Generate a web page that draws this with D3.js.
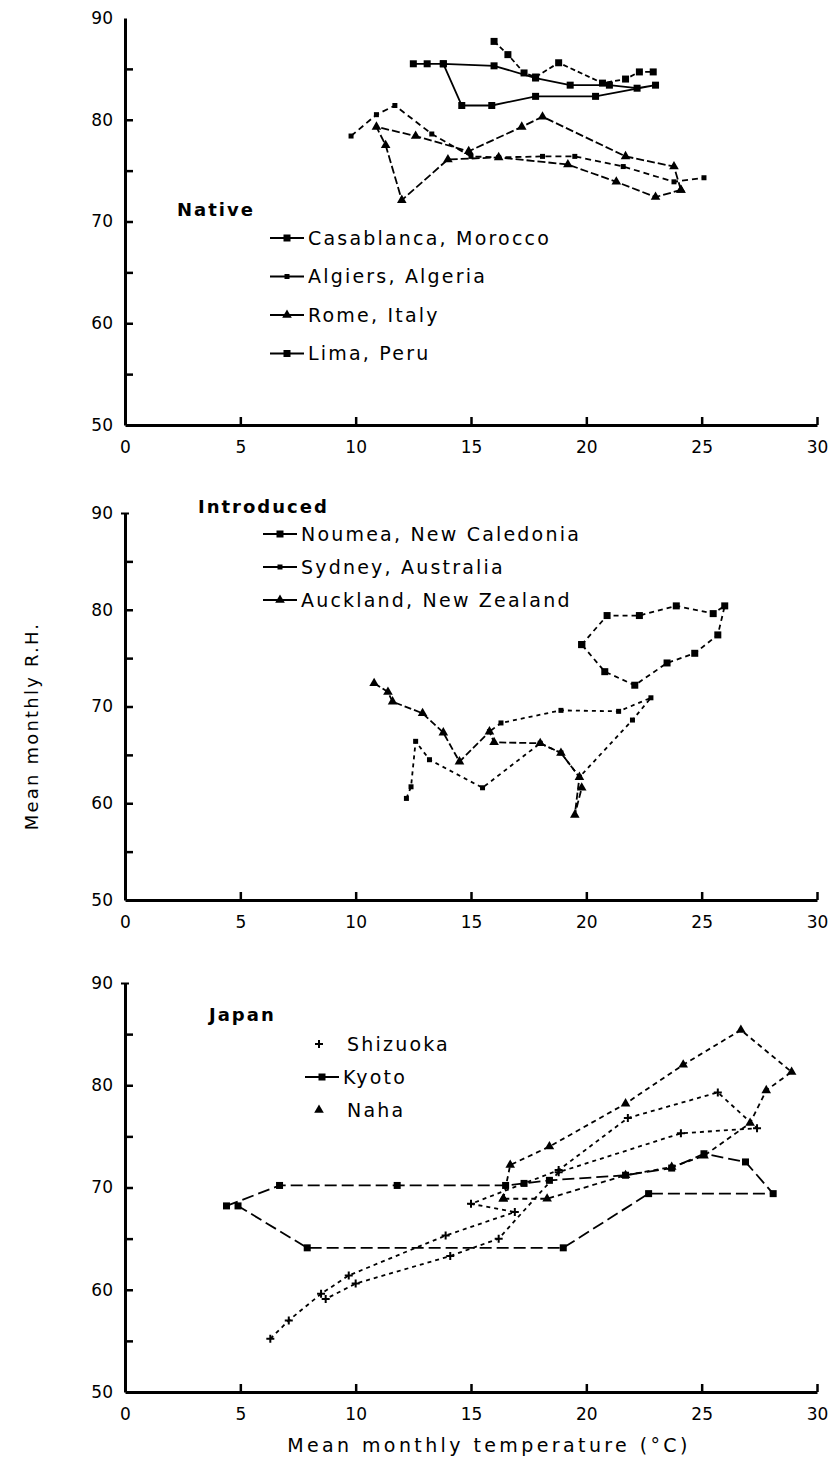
<!DOCTYPE html>
<html>
<head>
<meta charset="utf-8">
<script src="https://cdn.jsdelivr.net/npm/d3@7"></script>
<style>
  body { margin: 0; background: #fff; }
  svg text { font-family: "DejaVu Sans", sans-serif; fill: #000; }
</style>
</head>
<body>
<div id="chart"></div>
<script>
// ticks
const xTicks = [0, 5, 10, 15, 20, 25, 30];
const yTicks = [50, 55, 60, 65, 70, 75, 80, 85, 90];
const yLabels = [50, 60, 70, 80, 90];

// Native  [temp, RH]
const casablanca = [[12.5,85.5],[13.1,85.5],[13.8,85.5],[16.0,85.3],[17.8,84.1],[19.3,83.4],[21.0,83.4],[22.2,83.1],[23.0,83.4],[20.4,82.3],[17.8,82.3],[15.9,81.4],[14.6,81.4],[13.8,85.5]];
const algiers = [[9.8,78.4],[10.9,80.5],[11.7,81.4],[13.3,78.6],[15.0,76.4],[16.2,76.3],[18.1,76.4],[19.5,76.4],[21.6,75.4],[23.8,73.9],[25.1,74.3]];
const rome = [[24.1,73.1],[23.8,75.4],[21.7,76.4],[18.1,80.3],[17.2,79.3],[14.9,76.9],[12.6,78.4],[10.9,79.3],[11.3,77.5],[12.0,72.1],[14.0,76.1],[16.2,76.3],[19.2,75.6],[21.3,73.9],[23.0,72.4],[24.1,73.1]];
const lima = [[16.0,87.7],[16.6,86.4],[17.3,84.6],[17.8,84.2],[18.8,85.6],[20.7,83.6],[21.7,84.0],[22.3,84.7],[22.9,84.7]];

// Introduced
const noumea = [[19.8,76.4],[20.9,79.4],[22.3,79.4],[23.9,80.4],[25.5,79.6],[26.0,80.4],[25.7,77.4],[24.7,75.5],[23.5,74.5],[22.1,72.2],[20.8,73.6],[19.8,76.4]];
const sydney = [[12.2,60.5],[12.4,61.7],[12.6,66.4],[13.2,64.5],[15.5,61.6],[18.0,66.2],[18.9,65.2],[19.7,62.7],[22.0,68.6],[22.8,70.9],[21.4,69.5],[18.9,69.6],[16.3,68.3],[15.8,67.4]];
const auckland = [[10.8,72.4],[11.4,71.5],[11.6,70.5],[12.9,69.3],[13.8,67.3],[14.5,64.3],[15.8,67.4],[16.0,66.3],[18.0,66.2],[18.9,65.2],[19.7,62.7],[19.5,58.8],[19.8,61.6]];

// Japan
const shizuoka = [[6.3,55.2],[7.1,57.0],[8.5,59.6],[9.7,61.4],[13.9,65.3],[16.9,67.6],[15.0,68.4],[18.8,71.7],[21.8,76.8],[25.7,79.3],[27.4,75.8],[24.1,75.3],[18.8,71.5],[16.2,65.0],[14.1,63.3],[10.0,60.6],[8.7,59.1]];
const kyoto = [[4.4,68.2],[6.7,70.2],[11.8,70.2],[16.5,70.2],[17.3,70.4],[18.4,70.7],[21.7,71.2],[23.7,71.9],[25.1,73.3],[26.9,72.5],[28.1,69.4],[22.7,69.4],[19.0,64.1],[7.9,64.1],[4.9,68.2]];
const naha = [[16.4,68.9],[16.7,72.2],[18.4,74.0],[21.7,78.2],[24.2,82.0],[26.7,85.4],[28.9,81.3],[27.8,79.5],[27.1,76.3],[25.1,73.1],[23.7,72.0],[21.7,71.2],[18.3,68.9],[16.4,68.9]];

const width = 829, height = 1457;
const svg = d3.select("#chart").append("svg")
    .attr("width", width).attr("height", height);

const x = d3.scaleLinear().domain([0, 30]).range([125, 817]);

const panels = [
  { title: "Native", top: 18, bottom: 425, tx: 177, ty: 210, lx: 270, ly: 238, dy: 38.5, cap: false,
    series: [
      { name: "Casablanca, Morocco", data: casablanca, dash: null, mark: "square" },
      { name: "Algiers, Algeria", data: algiers, dash: "6,4", mark: "dot" },
      { name: "Rome, Italy", data: rome, dash: "8,3", mark: "tri" },
      { name: "Lima, Peru", data: lima, dash: "5,3", mark: "square" }
    ] },
  { title: "Introduced", top: 513, bottom: 900, tx: 198, ty: 507, lx: 263, ly: 534, dy: 33, cap: true,
    series: [
      { name: "Noumea, New Caledonia", data: noumea, dash: "5,4", mark: "square" },
      { name: "Sydney, Australia", data: sydney, dash: "4,4", mark: "dot" },
      { name: "Auckland, New Zealand", data: auckland, dash: "7,3", mark: "tri" }
    ] },
  { title: "Japan", top: 983, bottom: 1392, tx: 209, ty: 1015, lx: 305, ly: 1044, dy: 33, cap: true,
    series: [
      { name: "Shizuoka", data: shizuoka, dash: "4,4", mark: "plus", noLine: true },
      { name: "Kyoto", data: kyoto, dash: "12,5", mark: "square" },
      { name: "Naha", data: naha, dash: "5,4", mark: "tri", noLine: true }
    ] }
];

function marker(g, type, cx, cy) {
  if (type === "square") {
    g.append("rect").attr("x", cx - 3.5).attr("y", cy - 3.5).attr("width", 7).attr("height", 7);
  } else if (type === "dot") {
    g.append("rect").attr("x", cx - 2.5).attr("y", cy - 2.5).attr("width", 5).attr("height", 5);
  } else if (type === "tri") {
    g.append("path").attr("d", d3.symbol(d3.symbolTriangle, 40)()).attr("transform", `translate(${cx},${cy})`);
  } else {
    g.append("path").attr("d", `M${cx-4},${cy}H${cx+4}M${cx},${cy-4}V${cy+4}`)
      .attr("stroke", "#000").attr("stroke-width", 2);
  }
}

panels.forEach(p => {
  const y = d3.scaleLinear().domain([50, 90]).range([p.bottom, p.top]);
  const g = svg.append("g");

  // axes
  const xAxis = g.append("g").attr("transform", `translate(0,${p.bottom})`)
    .call(d3.axisBottom(x).tickValues(xTicks).tickSize(-8).tickPadding(16).tickSizeOuter(0));
  const yAxis = g.append("g").attr("transform", `translate(${x(0)},0)`)
    .call(d3.axisLeft(y).tickValues(yTicks).tickSize(-8).tickPadding(12).tickSizeOuter(0)
      .tickFormat(d => yLabels.includes(d) ? d : ""));
  [xAxis, yAxis].forEach(a => {
    a.select(".domain").attr("stroke", "#000").attr("stroke-width", 3);
    a.selectAll(".tick line").attr("stroke", "#000").attr("stroke-width", 2.5);
    a.selectAll(".tick text").attr("font-size", 17).attr("font-family", "DejaVu Sans");
  });
  xAxis.selectAll(".tick").filter(d => d === 0).select("line").remove();
  yAxis.selectAll(".tick").filter(d => d === 50).select("line").remove();
  yAxis.selectAll(".tick").filter(d => d === 90).select("line")
    .each(function() {
      if (p.cap) d3.select(this).attr("x1", -4).attr("x2", 4).attr("stroke-width", 2);
      else d3.select(this).remove();
    });

  const line = d3.line().x(d => x(d[0])).y(d => y(d[1]));

  p.series.forEach(s => {
    g.append("path").datum(s.data)
      .attr("d", line)
      .attr("fill", "none")
      .attr("stroke", "#000")
      .attr("stroke-width", 1.8)
      .attr("stroke-dasharray", s.dash);
    const mg = g.append("g").attr("fill", "#000");
    s.data.forEach(d => marker(mg, s.mark, x(d[0]), y(d[1])));
  });

  // legend
  g.append("text").attr("x", p.tx).attr("y", p.ty).attr("dy", "0.35em")
    .attr("font-size", 18).attr("font-weight", "bold").attr("letter-spacing", 2).text(p.title);

  p.series.forEach((s, i) => {
    const ly = p.ly + i * p.dy;
    const lg = g.append("g").attr("fill", "#000");
    if (!s.noLine) {
      lg.append("line").attr("x1", p.lx).attr("x2", p.lx + 34)
        .attr("y1", ly).attr("y2", ly)
        .attr("stroke", "#000").attr("stroke-width", 2);
    }
    marker(lg, s.mark, p.lx + (s.noLine ? 14 : 17), ly);
    lg.append("text").attr("x", p.lx + (s.noLine ? 42 : 38)).attr("y", ly).attr("dy", "0.35em")
      .attr("font-size", 19).attr("letter-spacing", 2.2).text(s.name);
  });
});

// axis titles
svg.append("text")
  .attr("transform", "translate(32,726) rotate(-90)")
  .attr("text-anchor", "middle").attr("dy", "0.35em")
  .attr("font-size", 18).attr("letter-spacing", 2.2).text("Mean monthly R.H.");

svg.append("text")
  .attr("x", 489).attr("y", 1445).attr("dy", "0.35em")
  .attr("text-anchor", "middle")
  .attr("font-size", 19).attr("letter-spacing", 3.4).text("Mean monthly temperature (°C)");
</script>
</body>
</html>
